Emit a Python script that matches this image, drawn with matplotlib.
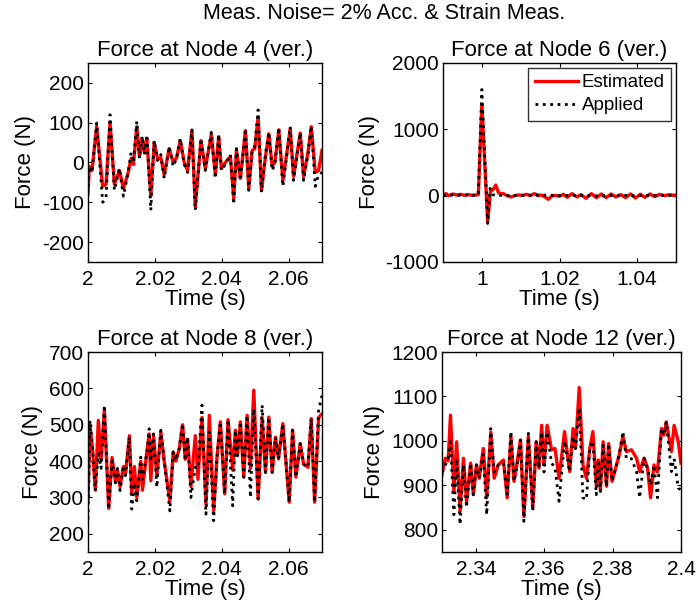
import matplotlib
matplotlib.use("Agg")
import matplotlib.pyplot as plt

plt.rcParams['font.family'] = ['Liberation Sans', 'DejaVu Sans']
plt.rcParams['axes.unicode_minus'] = False

# Node 4 (ver.)
t4 = [2.0000, 2.0004, 2.0012, 2.0026, 2.0044, 2.0054, 2.0066, 2.0079, 2.0094, 2.0106,
      2.0119, 2.0129, 2.0136, 2.0146, 2.0154, 2.0162, 2.0169, 2.0176, 2.0188, 2.0198,
      2.0208, 2.0218, 2.0228, 2.0243, 2.0255, 2.0265, 2.0276, 2.0288, 2.0298, 2.0311,
      2.0321, 2.0338, 2.0351, 2.0369, 2.0381, 2.0391, 2.0399, 2.0411, 2.0426, 2.0436,
      2.0444, 2.0456, 2.0471, 2.0481, 2.0491, 2.0499, 2.0509, 2.0519, 2.0531, 2.0541,
      2.0551, 2.0559, 2.0571, 2.0583, 2.0595, 2.0605, 2.0615, 2.0635, 2.0645, 2.0658,
      2.0668, 2.0680, 2.0690, 2.0700]
est4 = [-80, -10, -20, 90, -60, -55, 100, -55, -20, -65,
        -30, 10, -5, 90, 15, 60, 25, 60, -85, 50,
        10, 12, -30, 35, 0, 12, 55, 0, -20, 80,
        -110, 55, -15, 70, -30, 65, -15, 0, 15, -90,
        30, -40, 80, -65, 30, 35, 115, -70, 15, 72,
        -10, 0, 82, -45, 24, 85, -35, 74, -35, 24,
        90, -25, -20, 30]
app4 = [-60, -10, -25, 99, -100, -90, 120, -70, -15, -85,
        -30, 25, 0, 103, 10, 66, 20, 70, -120, 55,
        5, 20, -40, 40, -10, 10, 60, -5, -25, 82,
        -120, 60, -20, 76, -40, 70, -20, -5, 20, -105,
        35, -45, 85, -70, 30, 40, 132, -75, 20, 76,
        -20, -5, 88, -60, 20, 90, -45, 75, -45, 20,
        92, -60, -30, -25]

# Node 6 (ver.)
t6_est = [0.9900, 0.9907, 0.9915, 0.9925, 0.9935, 0.9945, 0.9955, 0.9965, 0.9975, 0.9985,
          0.9991, 1.0000, 1.0015, 1.0022, 1.0030, 1.0036, 1.0043, 1.0055, 1.0065, 1.0075,
          1.0085, 1.0095, 1.0105, 1.0115, 1.0125, 1.0135, 1.0145, 1.0152, 1.0160, 1.0171,
          1.0182, 1.0190, 1.0200, 1.0210, 1.0220, 1.0232, 1.0245, 1.0255, 1.0268, 1.0282,
          1.0295, 1.0308, 1.0320, 1.0333, 1.0345, 1.0358, 1.0370, 1.0383, 1.0395, 1.0408,
          1.0420, 1.0433, 1.0445, 1.0458, 1.0470, 1.0483, 1.0495, 1.0500]
est6 = [10, 30, 0, 25, 10, 20, 5, 15, 5, 10,
        15, 1380, -400, 60, 100, 160, 40, 30, 0, -20,
        0, 10, 5, 20, 0, 30, 0, 10, -10, -55,
        0, 5, -10, 20, -25, 30, -20, 15, -40, 30,
        -30, 25, -30, 25, -20, 15, -30, 25, -35, 20,
        -25, 25, -15, 20, 0, 15, 5, 10]
t6_app = [0.9900, 0.9920, 0.9940, 0.9960, 0.9980, 0.9991, 1.0000, 1.0015, 1.0021, 1.0027,
          1.0035, 1.0050, 1.0100, 1.0150, 1.0200, 1.0250, 1.0300, 1.0350, 1.0400, 1.0450,
          1.0500]
app6 = [0, 10, 5, 10, 5, 10, 1600, -420, 110, 20,
        0, 5, 0, 10, 0, 5, -5, 5, 0, 5,
        0]

# Node 8 (ver.)
t8 = [2.0000, 2.0006, 2.0014, 2.0022, 2.0031, 2.0039, 2.0049, 2.0062, 2.0072, 2.0082,
      2.0088, 2.0096, 2.0106, 2.0112, 2.0124, 2.0131, 2.0139, 2.0146, 2.0158, 2.0163,
      2.0178, 2.0183, 2.0188, 2.0196, 2.0206, 2.0218, 2.0228, 2.0245, 2.0255, 2.0263,
      2.0273, 2.0283, 2.0291, 2.0298, 2.0308, 2.0321, 2.0329, 2.0341, 2.0353, 2.0363,
      2.0376, 2.0386, 2.0396, 2.0409, 2.0419, 2.0433, 2.0441, 2.0447, 2.0456, 2.0466,
      2.0476, 2.0486, 2.0496, 2.0509, 2.0521, 2.0531, 2.0541, 2.0551, 2.0561, 2.0570,
      2.0583, 2.0602, 2.0612, 2.0622, 2.0635, 2.0645, 2.0658, 2.0668, 2.0678, 2.0690,
      2.0700]
est8 = [290, 500, 430, 320, 512, 400, 540, 270, 410, 345,
        375, 330, 385, 365, 470, 310, 385, 300, 400, 320,
        440, 475, 346, 470, 360, 480, 400, 290, 425, 400,
        434, 500, 405, 460, 330, 470, 350, 520, 280, 526,
        265, 411, 508, 310, 514, 375, 485, 415, 508, 356,
        526, 380, 595, 296, 520, 369, 521, 369, 466, 406,
        503, 287, 485, 356, 448, 392, 383, 517, 287, 520,
        530]
app8 = [240, 512, 429, 319, 420, 380, 554, 268, 400, 340,
        380, 319, 388, 360, 466, 268, 340, 291, 411, 350,
        434, 489, 400, 475, 328, 485, 402, 263, 425, 402,
        434, 503, 402, 466, 300, 383, 380, 554, 254, 480,
        236, 411, 508, 310, 514, 277, 485, 415, 508, 356,
        526, 300, 545, 296, 554, 369, 521, 369, 466, 406,
        503, 287, 485, 356, 448, 392, 383, 517, 287, 540,
        580]

# Node 12 (ver.)
t12 = [2.3300, 2.3310, 2.3318, 2.3325, 2.3335, 2.3343, 2.3353, 2.3363, 2.3372, 2.3384,
       2.3392, 2.3401, 2.3409, 2.3421, 2.3431, 2.3443, 2.3453, 2.3465, 2.3480, 2.3491,
       2.3502, 2.3511, 2.3519, 2.3530, 2.3540, 2.3553, 2.3566, 2.3576, 2.3584, 2.3592,
       2.3599, 2.3608, 2.3621, 2.3631, 2.3643, 2.3659, 2.3674, 2.3684, 2.3691, 2.3702,
       2.3713, 2.3723, 2.3733, 2.3742, 2.3752, 2.3758, 2.3764, 2.3772, 2.3782, 2.3788,
       2.3798, 2.3806, 2.3819, 2.3830, 2.3840, 2.3855, 2.3870, 2.3879, 2.3892, 2.3902,
       2.3911, 2.3921, 2.3931, 2.3943, 2.3950, 2.3957, 2.3972, 2.3980, 2.3992, 2.4000]
est12 = [924, 961, 955, 1058, 886, 998, 842, 961, 864, 950,
         879, 946, 916, 983, 872, 1020, 916, 946, 957, 872,
         1010, 909, 946, 1002, 830, 1010, 850, 998, 939, 1035,
         946, 1035, 980, 983, 916, 1021, 931, 1028, 983, 1120,
         946, 916, 983, 1021, 900, 957, 890, 998, 898, 994,
         909, 931, 968, 1010, 976, 980, 961, 931, 961, 939,
         872, 946, 930, 1028, 1013, 1043, 976, 1035, 998, 950]
app12 = [930, 946, 960, 998, 834, 960, 812, 946, 850, 950,
         879, 946, 916, 970, 834, 1028, 930, 946, 950, 880,
         1021, 909, 940, 1002, 819, 1017, 842, 998, 939, 1020,
         930, 1020, 950, 940, 864, 1000, 931, 1010, 983, 1075,
         872, 868, 983, 1000, 879, 957, 886, 990, 898, 994,
         909, 931, 968, 1021, 960, 960, 930, 872, 961, 939,
         900, 946, 872, 1028, 1013, 1043, 931, 960, 894, 890]

fig = plt.figure(figsize=(6.96, 6.06), dpi=100)
fig.suptitle('Meas. Noise= 2% Acc. & Strain Meas.', fontsize=15.5, x=0.552, y=0.995)

fs = 16
ax1 = fig.add_axes([0.1264, 0.5677, 0.3362, 0.3284])
ax2 = fig.add_axes([0.6365, 0.5677, 0.3348, 0.3284])
ax3 = fig.add_axes([0.1264, 0.0891, 0.3362, 0.3300])
ax4 = fig.add_axes([0.6350, 0.0891, 0.3434, 0.3300])

panels = [
    (ax1, t4, est4, t4, app4, 'Force at Node 4 (ver.)', (2.0, 2.07), (-250, 250),
     [2.0, 2.02, 2.04, 2.06], ['2', '2.02', '2.04', '2.06'], [-200, -100, 0, 100, 200]),
    (ax2, t6_est, est6, t6_app, app6, 'Force at Node 6 (ver.)', (0.99, 1.05), (-1000, 2000),
     [1.0, 1.02, 1.04], ['1', '1.02', '1.04'], [-1000, 0, 1000, 2000]),
    (ax3, t8, est8, t8, app8, 'Force at Node 8 (ver.)', (2.0, 2.07), (150, 700),
     [2.0, 2.02, 2.04, 2.06], ['2', '2.02', '2.04', '2.06'], [200, 300, 400, 500, 600, 700]),
    (ax4, t12, est12, t12, app12, 'Force at Node 12 (ver.)', (2.33, 2.4), (750, 1200),
     [2.34, 2.36, 2.38, 2.4], ['2.34', '2.36', '2.38', '2.4'], [800, 900, 1000, 1100, 1200]),
]

for ax, te, ye, ta, ya, title, xl, yl, xt, xtl, yt in panels:
    ax.plot(te, ye, color='red', lw=2.4, label='Estimated')
    ax.plot(ta, ya, color='black', lw=2, ls=':', label='Applied')
    ax.set_xlim(*xl)
    ax.set_ylim(*yl)
    ax.set_xticks(xt)
    ax.set_xticklabels(xtl)
    ax.set_yticks(yt)
    ax.set_title(title, fontsize=fs, pad=5)
    ax.set_xlabel('Time (s)', fontsize=fs, labelpad=0)
    ax.set_ylabel('Force (N)', fontsize=fs, labelpad=4)
    ax.tick_params(axis='x', pad=6)
    ax.tick_params(axis='y', pad=3)
    ax.tick_params(direction='in', top=True, right=True, labelsize=15, length=3)
    for s in ax.spines.values():
        s.set_linewidth(1)

leg = ax2.legend(loc='upper right', fontsize=13.5, frameon=True, fancybox=False,
                 borderpad=0.35, handlelength=2.3, handletextpad=0.2, labelspacing=0.3,
                 borderaxespad=0.25)
leg.get_frame().set_edgecolor('black')
leg.get_frame().set_linewidth(1)

fig.savefig('out.png', dpi=100)
